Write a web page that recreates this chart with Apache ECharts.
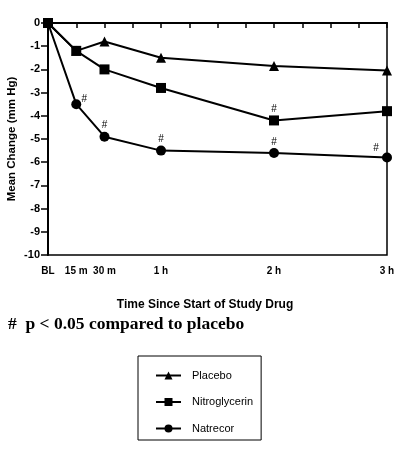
<!DOCTYPE html>
<html>
<head>
<meta charset="utf-8">
<script src="https://cdn.jsdelivr.net/npm/echarts@6/dist/echarts.min.js"></script>
<style>
html, body { margin: 0; padding: 0; background: #fff; }
#chart { width: 400px; height: 454px; }
</style>
</head>
<body>
<div id="chart"></div>
<script>
// time points in minutes since start of study drug
var minutes = [0, 15, 30, 60, 120, 180];
var tickLabels = { 0: 'BL', 15: '15 m', 30: '30 m', 60: '1 h', 120: '2 h', 180: '3 h' };

var placebo = [0, -1.2, -0.8, -1.5, -1.85, -2.05];
var nitroglycerin = [0, -1.2, -2.0, -2.8, -4.2, -3.8];
var natrecor = [0, -3.5, -4.9, -5.5, -5.6, -5.8];

// 1 = p < 0.05 compared to placebo
var sigNitro = [0, 0, 0, 0, 1, 0];
var sigNatrecor = [0, 1, 1, 1, 1, 1];

function buildData(values, sig) {
    return values.map(function (v, i) {
        var item = { value: [minutes[i], v] };
        if (sig && sig[i]) {
            var off = [0, 4];
            if (i === 1) off = [8, 10];
            if (i === values.length - 1) off = [-11, 6];
            item.label = { show: true, formatter: '#', position: 'top', offset: off };
        }
        return item;
    });
}

var chart = echarts.init(document.getElementById('chart'));

var lineStyle = { color: '#000', width: 2 };
var hashLabel = { color: '#000', fontSize: 10, fontFamily: 'Liberation Sans' };

var option = {
    animation: false,
    textStyle: { fontFamily: 'Liberation Sans', color: '#000' },
    title: {
        text: '#  p < 0.05 compared to placebo',
        left: 3,
        top: 310,
        textStyle: { fontFamily: 'Liberation Serif', fontWeight: 'bold', fontSize: 17.5, color: '#000' }
    },
    legend: {
        orient: 'vertical',
        left: 138,
        top: 356,
        padding: [14, 8, 6, 17],
        itemWidth: 25,
        itemHeight: 10,
        itemGap: 15.5,
        borderColor: '#000',
        borderWidth: 1,
        textStyle: { fontSize: 11, color: '#000', padding: [0, 0, 0, 6] },
        data: ['Placebo', 'Nitroglycerin', 'Natrecor']
    },
    grid: {
        left: 48,
        right: 13,
        top: 23,
        bottom: 199,
        show: true,
        borderColor: '#000',
        borderWidth: 1.5,
        containLabel: false,
        outerBoundsMode: 'none'
    },
    xAxis: {
        type: 'value',
        min: 0,
        max: 180,
        interval: 15,
        name: 'Time Since Start of Study Drug',
        nameLocation: 'middle',
        nameGap: 44,
        nameMoveOverlap: false,
        nameTextStyle: { fontWeight: 'bold', fontSize: 12, color: '#000', padding: [0, 25, 0, 0] },
        axisLine: { lineStyle: { color: '#000', width: 2 } },
        axisTick: { length: 5, lineStyle: { color: '#000', width: 1.5 } },
        axisLabel: {
            color: '#000',
            fontSize: 10,
            fontWeight: 'bold',
            margin: 11,
            formatter: function (v) { return tickLabels[v] || ''; }
        },
        splitLine: { show: false }
    },
    yAxis: {
        type: 'value',
        min: -10,
        max: 0,
        interval: 1,
        name: 'Mean Change (mm Hg)',
        nameLocation: 'middle',
        nameGap: 30,
        nameMoveOverlap: false,
        nameTextStyle: { fontWeight: 'bold', fontSize: 11.5, color: '#000' },
        axisLine: { show: true, lineStyle: { color: '#000', width: 2 } },
        axisTick: { show: true, length: 7, lineStyle: { color: '#000', width: 1.5 } },
        axisLabel: { color: '#000', fontSize: 11, margin: 8, fontWeight: 'bold' },
        splitLine: { show: false }
    },
    series: [
        {
            name: 'Placebo',
            type: 'line',
            symbol: 'triangle',
            symbolSize: 10,
            z: 2,
            lineStyle: lineStyle,
            itemStyle: { color: '#000' },
            data: buildData(placebo, null)
        },
        {
            name: 'Nitroglycerin',
            type: 'line',
            symbol: 'rect',
            symbolSize: 10,
            z: 4,
            lineStyle: lineStyle,
            itemStyle: { color: '#000' },
            label: hashLabel,
            data: buildData(nitroglycerin, sigNitro)
        },
        {
            name: 'Natrecor',
            type: 'line',
            symbol: 'circle',
            symbolSize: 10,
            z: 3,
            lineStyle: lineStyle,
            itemStyle: { color: '#000' },
            label: hashLabel,
            data: buildData(natrecor, sigNatrecor)
        }
    ]
};

chart.setOption(option);
</script>
</body>
</html>
